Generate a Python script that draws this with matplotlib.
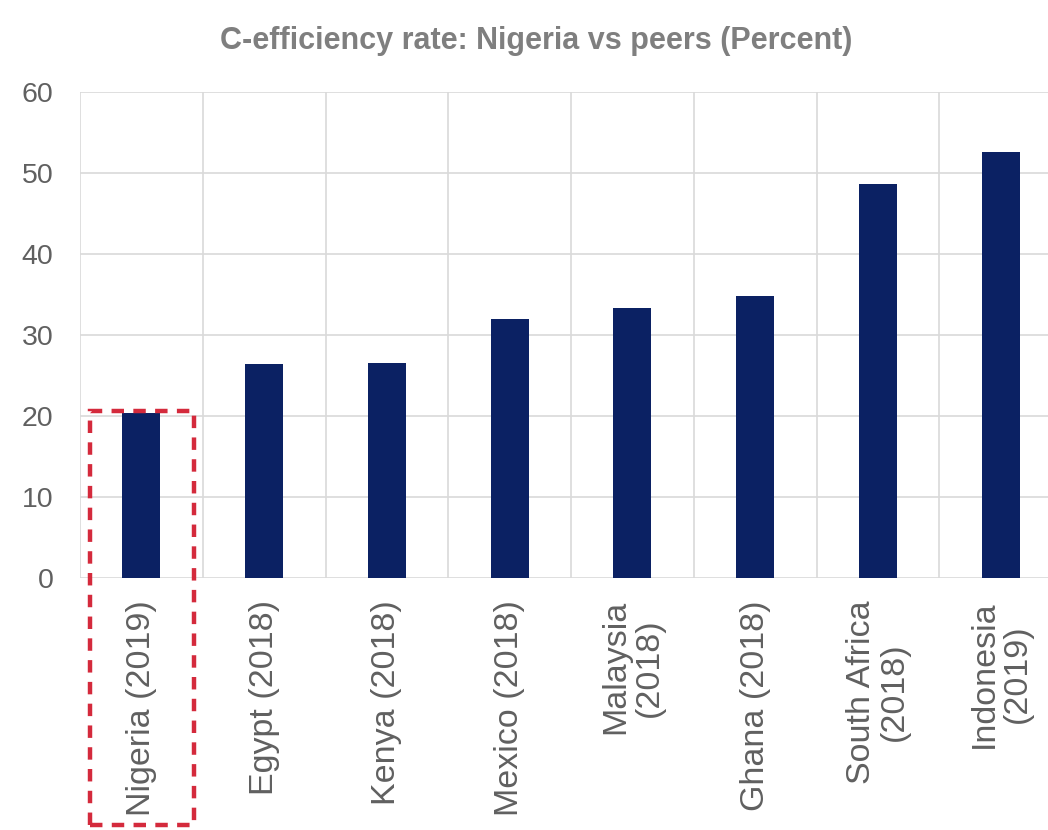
import matplotlib
matplotlib.use("Agg")
import matplotlib.pyplot as plt
from matplotlib.patches import Rectangle

plt.rcParams['font.family'] = ['Liberation Sans', 'DejaVu Sans']

categories = ["Nigeria (2019)", "Egypt (2018)", "Kenya (2018)", "Mexico (2018)",
              "Malaysia\n(2018)", "Ghana (2018)", "South Africa\n(2018)", "Indonesia\n(2019)"]
values = [20.4, 26.4, 26.5, 32.0, 33.3, 34.8, 48.6, 52.6]
yticks = [0, 10, 20, 30, 40, 50, 60]
title = "C-efficiency rate: Nigeria vs peers (Percent)"

W, H = 1048, 830
fig = plt.figure(figsize=(W / 100, H / 100), dpi=100)
left, right, bottom, top = 80, 1062, 578, 92
ax = fig.add_axes([left / W, 1 - bottom / H, (right - left) / W, (bottom - top) / H])

x = list(range(len(categories)))
ax.bar(x, values, width=0.31, color="#0b2163", zorder=3)

ax.set_xlim(-0.5, len(categories) - 0.5)
ax.set_ylim(0, 60)
ax.set_yticks(yticks)
ax.set_yticklabels([str(t) for t in yticks])
ax.set_xticks(x)
ax.set_xticklabels(categories, rotation=90, ha="center", va="top",
                   multialignment="center", fontsize=24.5, linespacing=1.1)
ax.set_xticks([i - 0.5 for i in range(len(categories) + 1)], minor=True)

ax.grid(axis="y", color="#d9d9d9", linewidth=1.2, zorder=0)
ax.grid(axis="x", which="minor", color="#d9d9d9", linewidth=1.2, zorder=0)
ax.grid(axis="x", which="major", visible=False)
for s in ax.spines.values():
    s.set_visible(False)
ax.tick_params(axis="both", which="both", length=0, colors="#606060")
ax.tick_params(axis="y", pad=19, labelsize=20.5)
ax.tick_params(axis="x", pad=16)

fig.text(536 / W, 1 - 41 / H, title, ha="center", va="center", fontsize=22,
         fontweight="bold", color="#7f7f7f")

# Red dashed highlight box around Nigeria (drawn in figure pixels)
rx0, rx1, ry0, ry1 = 90, 194, 411, 825
rect = Rectangle((rx0 / W, 1 - ry1 / H), (rx1 - rx0) / W, (ry1 - ry0) / H,
                 transform=fig.transFigure, fill=False, edgecolor="#d42a3c",
                 linewidth=3.2, linestyle=(0, (2.8, 2.1)), zorder=10, clip_on=False)
fig.add_artist(rect)

fig.savefig("out.png", dpi=100)
